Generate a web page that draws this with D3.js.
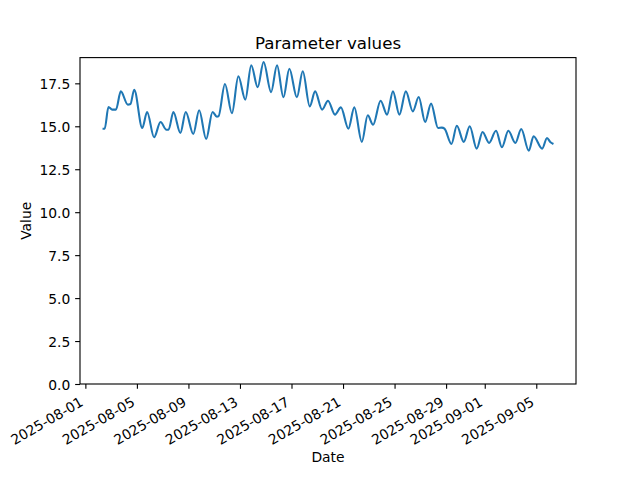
<!DOCTYPE html>
<html><head><meta charset="utf-8">
<script src="https://cdn.jsdelivr.net/npm/d3@7"></script>
<style>body{margin:0;background:#fff} svg{display:block} text{font-family:"DejaVu Sans",sans-serif;fill:#000}</style>
</head><body><svg id="c" width="640" height="480"></svg>
<script>
const startTime = "2025-08-02T08:00:00Z";
const hourOffsets = [0,4,11,18,25,34,47,52,59,74,83,96,108,119,123,132,145,155,169,180,193,205,213,216,228,241,253,266,277,289,300,314,325,337,348,362,373,386,396,409,420,433,444,458,469,483,494,504,518,530,541,553,565,578,589,601,612,625,632,637,650,660,673,684,697,708,720,733,744,756,769,780,794,803,819,828,834,840];
const values = [14.86,14.86,16.12,15.97,15.97,17.03,16.26,16.3,17.13,14.9,15.83,14.36,15.25,14.8,14.8,15.83,14.61,15.83,14.55,15.93,14.26,15.83,15.56,15.58,17.46,15.76,17.91,16.55,18.55,17.27,18.74,16.99,18.55,16.69,18.35,16.69,18.2,16.16,17.03,15.97,16.49,15.68,16.1,14.86,16.1,14.09,15.64,15.09,16.49,15.68,17.03,15.68,17.03,15.87,16.7,15.25,16.32,14.9,14.92,14.86,13.97,15.03,14.09,15.0,13.7,14.67,14.03,14.74,13.78,14.74,14.03,14.84,13.58,14.42,13.7,14.32,14.09,13.97];
const xTickLabels = ["2025-08-01","2025-08-05","2025-08-09","2025-08-13","2025-08-17","2025-08-21","2025-08-25","2025-08-29","2025-09-01","2025-09-05"];
const yTicks = [0,2.5,5,7.5,10,12.5,15,17.5];
const titleText = "Parameter values", xLabel = "Date", yLabel = "Value";

const L = 80, R = 576, T = 57.6, B = 384;
const t0 = new Date(startTime).getTime();
const data = hourOffsets.map((h, i) => ({date: new Date(t0 + h * 3600e3), value: values[i]}));
const xExt = d3.extent(data, d => d.date.getTime());
const xPad = (xExt[1] - xExt[0]) * 0.05;
const x = d3.scaleUtc().domain([new Date(xExt[0] - xPad), new Date(xExt[1] + xPad)]).range([L, R]);
const yMin = d3.min(values), yMax = d3.max(values);
const y = d3.scaleLinear().domain([0, yMax + 0.05 * (yMax - yMin)]).range([B, T]);

const svg = d3.select("#c");
svg.append("rect").attr("width", 640).attr("height", 480).attr("fill", "#fff");

const line = d3.line().x(d => x(d.date)).y(d => y(d.value)).curve(d3.curveMonotoneX);
svg.append("path").datum(data).attr("d", line).attr("fill", "none")
  .attr("stroke", "#1f77b4").attr("stroke-width", 2.08).attr("stroke-linejoin", "round");

const fs = 13.89;
// x axis
const xTicks = xTickLabels.map(s => new Date(s + "T00:00:00Z"));
const xa = svg.append("g").attr("transform", `translate(0,${B})`)
  .call(d3.axisBottom(x).tickValues(xTicks).tickFormat(d3.utcFormat("%Y-%m-%d")).tickSize(4.86).tickSizeOuter(0));
xa.select(".domain").remove();
xa.selectAll(".tick line").attr("stroke", "#000").attr("stroke-width", 1.11);
xa.selectAll(".tick text").attr("font-size", fs).attr("font-family", "DejaVu Sans")
  .attr("text-anchor", "end").attr("dy", null).attr("y", 0)
  .attr("transform", "translate(-1.6,20.9) rotate(-30)");

// y axis
const ya = svg.append("g").attr("transform", `translate(${L},0)`)
  .call(d3.axisLeft(y).tickValues(yTicks).tickFormat(d3.format(".1f")).tickSize(4.86).tickPadding(4.86).tickSizeOuter(0));
ya.select(".domain").remove();
ya.selectAll(".tick line").attr("stroke", "#000").attr("stroke-width", 1.11);
ya.selectAll(".tick text").attr("font-size", fs).attr("font-family", "DejaVu Sans").attr("dy", "0.36em");

// frame
svg.append("rect").attr("x", L).attr("y", T).attr("width", R - L).attr("height", B - T)
  .attr("fill", "none").attr("stroke", "#000").attr("stroke-width", 1.11);

svg.append("text").attr("x", (L + R) / 2).attr("y", 49.3).attr("text-anchor", "middle")
  .attr("font-size", 16.67).text(titleText);
svg.append("text").attr("x", (L + R) / 2).attr("y", 462).attr("text-anchor", "middle")
  .attr("font-size", fs).text(xLabel);
svg.append("text").attr("transform", `translate(30.5,${(T + B) / 2}) rotate(-90)`).attr("text-anchor", "middle")
  .attr("font-size", fs).text(yLabel);
</script></body></html>
